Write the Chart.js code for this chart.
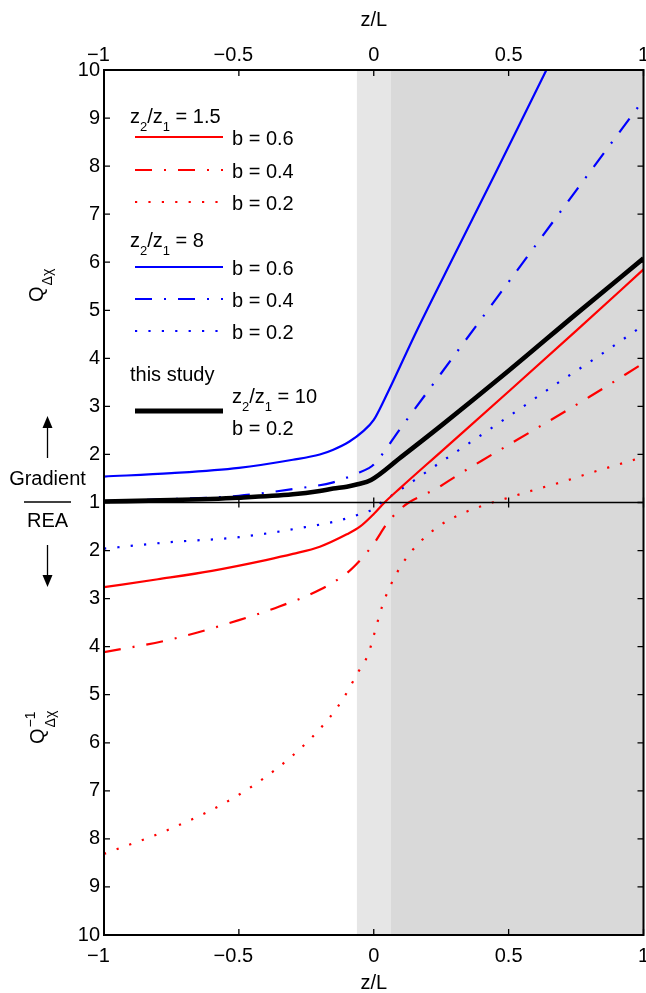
<!DOCTYPE html>
<html>
<head>
<meta charset="utf-8">
<script src="https://cdn.jsdelivr.net/npm/chart.js@4.4.0/dist/chart.umd.min.js"></script>
<style>
  html, body { margin: 0; padding: 0; background: #fff; }
  #wrap { width: 646px; height: 993px; }
</style>
</head>
<body>
<div id="wrap"><canvas id="chart" width="646" height="993"></canvas></div>
<script>
/* Q_dx (upper half) and Q_dx^-1 (lower half) against z/L.
   Values are Q itself: Q >= 1 sits above the "1" line, Q < 1 is shown as 1/Q below it. */

const FONT = "'Liberation Sans', Arial, Helvetica, sans-serif";

// ---- data ----
const zTicks = [-1, -0.5, 0, 0.5, 1];
const yTickLabels = ['10', '9', '8', '7', '6', '5', '4', '3', '2', '1', '2', '3', '4', '5', '6', '7', '8', '9', '10'];

// shaded stability bands on z/L
const bandStart = [-0.0625, 0.0625];
const bandEnd = [0.0625, 1];

// z2/z1 = 1.5
const zRed06 = [-1, -0.8, -0.6, -0.4, -0.3, -0.2, -0.1, -0.05, 0, 0.04, 0.1, 0.25, 0.5, 0.75, 1];
const qRed06 = [0.362, 0.385, 0.413, 0.455, 0.483, 0.521, 0.602, 0.667, 0.806, 1.0, 1.31, 2.06, 3.31, 4.57, 5.85];

const zRed04 = [-1, -0.75, -0.5, -0.35, -0.2, -0.1, -0.05, 0, 0.05, 0.09, 0.13, 0.19, 0.25, 0.3, 0.4, 0.5, 0.6, 0.8, 1];
const qRed04 = [0.243, 0.260, 0.290, 0.316, 0.355, 0.405, 0.455, 0.538, 0.699, 0.847, 1.0, 1.17, 1.35, 1.53, 1.87, 2.2, 2.53, 3.2, 3.9];

const zRed02 = [-1, -0.75, -0.5, -0.3, -0.17, -0.11, -0.06, -0.02, 0, 0.03, 0.06, 0.11, 0.17, 0.25, 0.34, 0.44, 0.5, 0.6, 0.7, 0.8, 0.9, 1];
const qRed02 = [0.1203, 0.1285, 0.1412, 0.1597, 0.1812, 0.198, 0.2198, 0.241, 0.2653, 0.3145, 0.3636, 0.4464, 0.5464, 0.6849, 0.8333, 1.0, 1.1, 1.27, 1.43, 1.61, 1.78, 1.95];

// z2/z1 = 8
const zBlue06 = [-1, -0.75, -0.5, -0.3, -0.2, -0.15, -0.09, -0.04, 0, 0.04, 0.16, 0.3, 0.45, 0.64, 0.7];
const qBlue06 = [1.54, 1.61, 1.72, 1.89, 2.0, 2.1, 2.27, 2.48, 2.72, 3.15, 4.58, 6.16, 7.84, 10.0, 10.67];

const zBlue04 = [-1, -0.75, -0.5, -0.3, -0.15, -0.06, -0.02, 0, 0.1, 0.25, 0.5, 0.75, 1];
const qBlue04 = [1.03, 1.07, 1.14, 1.28, 1.42, 1.61, 1.71, 1.79, 2.55, 3.69, 5.59, 7.49, 9.38];

const zBlue02 = [-1, -0.77, -0.5, -0.24, -0.14, -0.05, 0, 0.028, 0.07, 0.15, 0.23, 0.35, 0.5, 0.675, 0.84, 1];
const qBlue02 = [0.510, 0.546, 0.581, 0.667, 0.719, 0.806, 0.885, 1.0, 1.16, 1.46, 1.77, 2.22, 2.79, 3.46, 4.07, 4.69];

// this study, z2/z1 = 10, b = 0.2
const zStudy = [-1, -0.75, -0.5, -0.3, -0.2, -0.15, -0.1, -0.06, -0.01, 0.1, 0.25, 0.5, 0.75, 1];
const qStudy = [1.02, 1.05, 1.1, 1.17, 1.24, 1.29, 1.33, 1.38, 1.47, 1.94, 2.6, 3.74, 4.92, 6.08];

// ---- styles ----
const RED = '#ff0000';
const BLUE = '#0000ff';
const BLACK = '#000000';
const SHADES = ['#e6e6e6', '#d9d9d9'];
const SOLID = [];
const DASH_DOT = [17, 12, 2, 12];
const DOTTED = [2.2, 11.2];
const THIN = 2.2;
const TICK = 6;

// fold Q onto the two-sided axis: distance from the "1" line
function fold(q) {
  return q >= 1 ? q - 1 : 1 - 1 / q;
}

function toPoints(zs, qs) {
  return zs.map((z, i) => ({ x: z, y: fold(qs[i]) }));
}

function zLabel(v) {
  if (v === 0) return '0';
  // keep the digits centred under the tick, minus hangs to the left
  return v < 0 ? '\u2212' + Math.abs(v) + '\u2007' : String(v);
}

function lineSet(label, zs, qs, color, dash, width, order) {
  return {
    label: label,
    data: toPoints(zs, qs),
    borderColor: color,
    borderDash: dash,
    borderWidth: width,
    pointRadius: 0,
    fill: false,
    cubicInterpolationMode: 'monotone',
    order: order
  };
}

/* ---- plugins ---- */

const shadePlugin = {
  id: 'shade',
  beforeDatasetsDraw(chart) {
    const { ctx, chartArea: a, scales: { x } } = chart;
    ctx.save();
    bandStart.forEach((s, i) => {
      const x0 = x.getPixelForValue(s);
      const x1 = x.getPixelForValue(bandEnd[i]);
      ctx.fillStyle = SHADES[i];
      ctx.fillRect(x0, a.top, x1 - x0, a.bottom - a.top);
    });
    ctx.restore();
  }
};

const framePlugin = {
  id: 'frame',
  afterDatasetsDraw(chart) {
    const { ctx, chartArea: a, scales: { x, y } } = chart;
    const mid = y.getPixelForValue(0);
    ctx.save();
    ctx.strokeStyle = '#000';
    ctx.lineWidth = 1.6;
    ctx.beginPath();
    ctx.moveTo(a.left, mid);
    ctx.lineTo(a.right, mid);
    ctx.stroke();

    ctx.lineWidth = 1.3;
    ctx.beginPath();
    x.ticks.forEach(t => {
      const px = x.getPixelForValue(t.value);
      ctx.moveTo(px, a.top); ctx.lineTo(px, a.top + TICK);
      ctx.moveTo(px, a.bottom); ctx.lineTo(px, a.bottom - TICK);
      ctx.moveTo(px, mid - 5); ctx.lineTo(px, mid + 5);
    });
    y.ticks.forEach(t => {
      const py = y.getPixelForValue(t.value);
      ctx.moveTo(a.left, py); ctx.lineTo(a.left + TICK, py);
      ctx.moveTo(a.right, py); ctx.lineTo(a.right - TICK, py);
    });
    ctx.stroke();

    ctx.lineWidth = 2;
    ctx.strokeRect(a.left, a.top, a.right - a.left, a.bottom - a.top);
    ctx.restore();
  }
};

// text with sub/superscript pieces: [text, shift] where shift 1 = sub, -1 = sup
function richText(ctx, parts, x, y, size) {
  let cx = x;
  parts.forEach(([t, s]) => {
    const sz = s ? Math.round(size * 0.65) : size;
    ctx.font = sz + 'px ' + FONT;
    ctx.fillText(t, cx, y + s * size * 0.4);
    cx += ctx.measureText(t).width;
  });
}

function sample(ctx, y, color, dash, width) {
  ctx.save();
  ctx.strokeStyle = color;
  ctx.lineWidth = width;
  ctx.setLineDash(dash);
  ctx.beginPath();
  ctx.moveTo(135, y);
  ctx.lineTo(223, y);
  ctx.stroke();
  ctx.restore();
}

function arrow(ctx, x, from, tip, dir) {
  ctx.beginPath();
  ctx.moveTo(x, from);
  ctx.lineTo(x, tip - dir * 12);
  ctx.stroke();
  ctx.beginPath();
  ctx.moveTo(x, tip);
  ctx.lineTo(x - 5, tip - dir * 12);
  ctx.lineTo(x + 5, tip - dir * 12);
  ctx.closePath();
  ctx.fill();
}

const notesPlugin = {
  id: 'notes',
  afterDraw(chart) {
    const ctx = chart.ctx;
    ctx.save();
    ctx.fillStyle = '#000';
    ctx.strokeStyle = '#000';
    ctx.textBaseline = 'alphabetic';
    ctx.textAlign = 'left';

    // legend, z2/z1 = 1.5
    richText(ctx, [['z', 0], ['2', 1], ['/z', 0], ['1', 1], [' = 1.5', 0]], 130, 123, 20);
    sample(ctx, 137, RED, SOLID, THIN);
    sample(ctx, 170, RED, DASH_DOT, THIN);
    sample(ctx, 202, RED, DOTTED, THIN);
    ctx.font = '20px ' + FONT;
    ctx.fillText('b = 0.6', 232, 145);
    ctx.fillText('b = 0.4', 232, 178);
    ctx.fillText('b = 0.2', 232, 210);

    // legend, z2/z1 = 8
    richText(ctx, [['z', 0], ['2', 1], ['/z', 0], ['1', 1], [' = 8', 0]], 130, 247, 20);
    sample(ctx, 267, BLUE, SOLID, THIN);
    sample(ctx, 299, BLUE, DASH_DOT, THIN);
    sample(ctx, 331, BLUE, DOTTED, THIN);
    ctx.font = '20px ' + FONT;
    ctx.fillText('b = 0.6', 232, 275);
    ctx.fillText('b = 0.4', 232, 307);
    ctx.fillText('b = 0.2', 232, 339);

    // legend, this study
    ctx.fillText('this study', 130, 381);
    sample(ctx, 411, BLACK, SOLID, 5);
    richText(ctx, [['z', 0], ['2', 1], ['/z', 0], ['1', 1], [' = 10', 0]], 232, 403, 20);
    ctx.font = '20px ' + FONT;
    ctx.fillText('b = 0.2', 232, 435);

    // Gradient / REA marker at the left
    ctx.textAlign = 'center';
    ctx.fillText('Gradient', 47.5, 485);
    ctx.fillText('REA', 47.5, 527);
    ctx.lineWidth = 1.6;
    ctx.beginPath();
    ctx.moveTo(24, 502);
    ctx.lineTo(71, 502);
    ctx.stroke();
    ctx.lineWidth = 1.3;
    arrow(ctx, 47.5, 458, 416, -1);
    arrow(ctx, 47.5, 545, 587, 1);

    // y titles, rotated
    ctx.textAlign = 'left';
    ctx.save();
    ctx.translate(43, 302);
    ctx.rotate(-Math.PI / 2);
    ctx.font = '20px ' + FONT;
    ctx.fillText('Q', 0, 0);
    let w = ctx.measureText('Q').width;
    ctx.font = '14px ' + FONT;
    ctx.fillText('\u0394\u03c7', w + 1, 9);
    ctx.restore();

    ctx.save();
    ctx.translate(44, 744);
    ctx.rotate(-Math.PI / 2);
    ctx.font = '20px ' + FONT;
    ctx.fillText('Q', 0, 0);
    w = ctx.measureText('Q').width;
    ctx.font = '14px ' + FONT;
    ctx.fillText('\u22121', w + 1, -9);
    ctx.fillText('\u0394\u03c7', w + 1, 11);
    ctx.restore();

    ctx.restore();
  }
};

/* ---- chart ---- */

Chart.defaults.font.family = FONT;
Chart.defaults.font.size = 20;
Chart.defaults.color = '#000';

const datasets = [
  lineSet('z2/z1 = 1.5, b = 0.6', zRed06, qRed06, RED, SOLID, THIN, 1),
  lineSet('z2/z1 = 1.5, b = 0.4', zRed04, qRed04, RED, DASH_DOT, THIN, 1),
  lineSet('z2/z1 = 1.5, b = 0.2', zRed02, qRed02, RED, DOTTED, THIN, 1),
  lineSet('z2/z1 = 8, b = 0.6', zBlue06, qBlue06, BLUE, SOLID, THIN, 1),
  lineSet('z2/z1 = 8, b = 0.4', zBlue04, qBlue04, BLUE, DASH_DOT, THIN, 1),
  lineSet('z2/z1 = 8, b = 0.2', zBlue02, qBlue02, BLUE, DOTTED, THIN, 1),
  lineSet('this study', zStudy, qStudy, BLACK, SOLID, 4.6, 0)
];

function xAxis(position, tickPad, titlePad, height) {
  return {
    type: 'linear',
    position: position,
    min: -1,
    max: 1,
    afterBuildTicks: (s) => { s.ticks = zTicks.map(v => ({ value: v })); },
    ticks: { padding: tickPad, autoSkip: false, maxRotation: 0, callback: (v) => zLabel(v) },
    grid: { display: false, drawTicks: false },
    border: { display: false },
    title: { display: true, text: 'z/L', font: { size: 20, lineHeight: 1 }, padding: titlePad },
    afterFit: (s) => { s.height = height; s.paddingLeft = 0; s.paddingRight = 0; }
  };
}

new Chart(document.getElementById('chart'), {
  type: 'line',
  data: { datasets: datasets },
  plugins: [shadePlugin, framePlugin, notesPlugin],
  options: {
    responsive: false,
    animation: false,
    events: [],
    layout: { padding: { left: 0, right: 2.5, top: 0, bottom: 0 } },
    plugins: { legend: { display: false }, tooltip: { enabled: false } },
    scales: {
      x: xAxis('bottom', 9, { top: 0, bottom: 0 }, 58),
      x2: xAxis('top', 3, { top: 10, bottom: 0 }, 70),
      y: {
        type: 'linear',
        position: 'left',
        min: -9,
        max: 9,
        ticks: { stepSize: 1, padding: 4, autoSkip: false, callback: (v, i) => yTickLabels[i] },
        grid: { display: false, drawTicks: false },
        border: { display: false },
        afterFit: (s) => { s.width = 104; }
      }
    }
  }
});
</script>
</body>
</html>
